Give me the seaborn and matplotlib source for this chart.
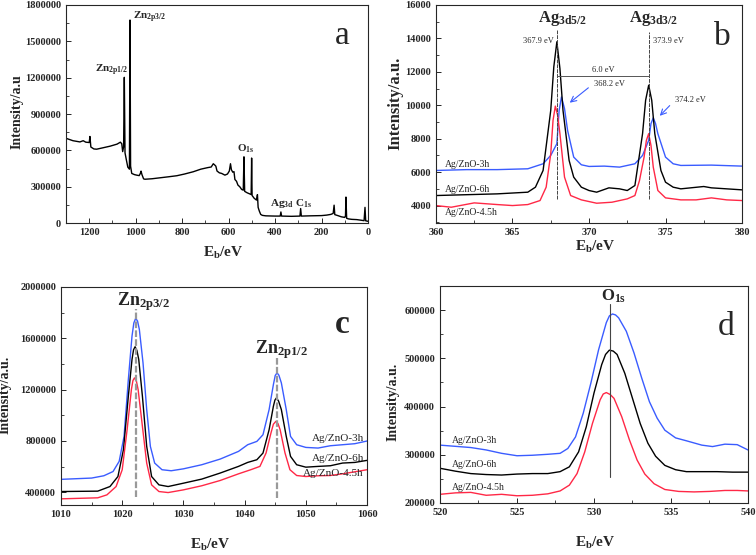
import matplotlib
matplotlib.use('Agg')
import matplotlib.pyplot as plt
from matplotlib.ticker import MultipleLocator, StrMethodFormatter
import seaborn as sns

# (a) survey spectrum
survey_ev = [1300, 1270, 1240, 1226, 1215, 1200, 1197, 1193, 1180, 1168, 1140, 1110, 1080, 1066,
             1060, 1056, 1052, 1049, 1046, 1040, 1034, 1027, 1024.5, 1022, 1017, 1005, 996, 985,
             980, 977, 973, 966, 960, 930, 895, 860, 823, 790, 752, 720, 690, 675, 666, 660, 655,
             650, 640, 630, 616, 605, 597, 592, 588, 582, 577, 573, 566, 560, 552, 544, 537, 534,
             531, 520, 508, 503, 501, 499, 490, 480, 476, 473, 468, 462, 455, 440, 400, 378, 375,
             372, 330, 293, 290, 287, 250, 200, 178, 160, 150, 146, 143, 130, 115, 100, 97, 95, 92,
             85, 70, 49, 30, 17, 13, 10, 5, 0]
survey_int = [700000, 680000, 670000, 680000, 668000, 665000, 715000, 628000, 612000, 610000,
              622000, 635000, 652000, 668000, 655000, 590000, 630000, 1203000, 580000, 520000,
              462000, 445000, 1676000, 470000, 410000, 400000, 396000, 392000, 410000, 429000,
              400000, 365000, 362000, 366000, 374000, 382000, 391000, 405000, 424000, 445000,
              458000, 463000, 490000, 480000, 470000, 430000, 415000, 410000, 396000, 405000,
              430000, 490000, 440000, 420000, 425000, 360000, 345000, 314000, 300000, 278000,
              272000, 547000, 262000, 250000, 240000, 236000, 537000, 228000, 205000, 190000,
              235000, 130000, 100000, 72000, 64000, 60000, 58000, 58000, 92000, 58000, 56000,
              58000, 120000, 58000, 60000, 62000, 66000, 72000, 80000, 148000, 70000, 62000,
              52000, 47000, 60000, 215000, 40000, 35000, 31000, 29000, 24000, 20000, 130000,
              19000, 17000, 15000]

# (b) Ag 3d
ag_ev_3h = [360, 362, 364, 366, 367, 367.5, 367.9, 368.05, 368.2, 368.4, 368.6, 369, 369.5, 370,
            371, 372, 373, 373.5, 373.9, 374.05, 374.2, 374.35, 374.5, 375, 375.5, 376, 378, 380]
ag_int_3h = [6100, 6150, 6150, 6200, 6500, 7000, 7700, 9700, 10500, 9800, 8500, 6900, 6440, 6340,
             6360, 6300, 6500, 7000, 7900, 8900, 9250, 8900, 8300, 6900, 6500, 6400, 6420, 6360]
ag_ev_6h = [360, 362, 364, 365, 366, 366.5, 367, 367.5, 367.7, 367.9, 368.1, 368.3, 368.7, 369,
            369.5, 370, 370.5, 371.3, 372, 372.5, 373, 373.5, 373.7, 373.9, 374.1, 374.3, 374.7,
            375, 375.5, 376, 377.5, 378, 380]
ag_int_6h = [4600, 4650, 4700, 4750, 4800, 5100, 6100, 9700, 12300, 13800, 12200, 9700, 6700,
             5700, 5100, 4900, 4800, 5060, 5000, 4900, 5200, 8300, 10300, 11200, 10300, 8300,
             6100, 5400, 5100, 5000, 5140, 5060, 4940]
ag_ev_45h = [360, 361, 362.5, 364, 365, 366, 366.8, 367.2, 367.5, 367.65, 367.8, 367.95, 368.1,
             368.4, 368.8, 369.5, 370, 370.5, 371.5, 372.5, 373, 373.3, 373.6, 373.75, 373.9,
             374.05, 374.2, 374.5, 375, 376, 377, 378, 379, 380]
ag_int_45h = [4000, 3900, 4160, 4060, 4000, 4060, 4300, 5100, 7100, 9100, 9950, 9400, 8300, 5700,
              4600, 4340, 4240, 4140, 4200, 4400, 4600, 5500, 6900, 7900, 8300, 7600, 6300, 4900,
              4460, 4340, 4340, 4460, 4340, 4300]

# (c) Zn 2p
zn_ev_3h = [1010, 1015, 1017, 1018.5, 1019.5, 1020.3, 1021, 1021.6, 1021.9, 1022.2, 1022.5,
            1022.8, 1023.4, 1024, 1024.6, 1025.3, 1026.5, 1028, 1030, 1033, 1036, 1039, 1040.5,
            1042, 1043, 1044, 1044.7, 1045.0, 1045.3, 1045.6, 1046, 1046.8, 1047.5, 1048.5, 1050,
            1052, 1054, 1056, 1058, 1060]
zn_int_3h = [500000, 510000, 528000, 561000, 640000, 835000, 1278000, 1617000, 1720000, 1755000,
             1735000, 1669000, 1408000, 1044000, 757000, 627000, 575000, 567000, 582000, 614000,
             658000, 718000, 770000, 796000, 848000, 1044000, 1239000, 1310000, 1330000, 1312000,
             1252000, 1044000, 835000, 770000, 749000, 744000, 762000, 770000, 778000, 799000]
zn_ev_6h = [1010, 1016, 1018, 1019.3, 1020.2, 1021, 1021.6, 1021.85, 1022.1, 1022.4, 1022.7,
            1023.3, 1024, 1024.8, 1026, 1027.5, 1030, 1033, 1036, 1039, 1040.5, 1042, 1043, 1044,
            1044.7, 1044.95, 1045.2, 1045.55, 1046, 1046.8, 1047.5, 1048.5, 1050, 1052, 1054,
            1056, 1058, 1060]
zn_int_6h = [405000, 408000, 444000, 522000, 731000, 1148000, 1435000, 1510000, 1534000, 1505000,
             1435000, 1148000, 757000, 522000, 457000, 444000, 470000, 502000, 549000, 601000,
             632000, 653000, 705000, 887000, 1070000, 1118000, 1135000, 1110000, 1044000, 835000,
             679000, 614000, 595000, 601000, 606000, 627000, 632000, 648000]
zn_ev_45h = [1010, 1016, 1017.5, 1019, 1020, 1020.8, 1021.5, 1021.75, 1022, 1022.3, 1022.6,
             1023.3, 1024, 1024.8, 1026, 1027.5, 1030, 1033, 1036, 1039, 1041, 1042.5, 1043.5,
             1044.3, 1044.7, 1045.1, 1045.45, 1045.8, 1046.6, 1047.4, 1048.5, 1050, 1052, 1054,
             1056, 1058, 1060]
zn_int_45h = [348000, 356000, 379000, 444000, 575000, 887000, 1200000, 1270000, 1291000, 1270000,
              1200000, 913000, 627000, 457000, 405000, 397000, 418000, 450000, 491000, 543000,
              575000, 601000, 705000, 861000, 930000, 952000, 935000, 887000, 705000, 575000,
              530000, 522000, 528000, 530000, 543000, 559000, 575000]

# (d) O 1s
o_ev_3h = [520, 522, 523, 524, 525, 526, 527, 527.8, 528.3, 528.8, 529.3, 529.8, 530.3, 530.8,
           531.0, 531.2, 531.4, 531.6, 532.1, 532.6, 533.1, 533.6, 534.1, 534.6, 535.3, 536, 537,
           537.7, 538.5, 539.3, 540]
o_int_3h = [320000, 315000, 310000, 303000, 298000, 299000, 301000, 303000, 313000, 337000,
            386000, 449000, 518000, 574000, 588000, 592000, 590000, 584000, 556000, 511000,
            459000, 410000, 376000, 351000, 335000, 329000, 320000, 317000, 322000, 321000,
            310000]
o_ev_6h = [520, 521, 522, 523, 524, 525, 526, 527, 527.8, 528.4, 529, 529.5, 530, 530.5, 530.75,
           531, 531.25, 531.5, 532, 532.5, 533, 533.5, 534, 534.6, 535.3, 536, 537, 538, 539, 540]
o_int_6h = [272000, 266000, 261000, 259000, 258000, 260000, 261000, 261000, 265000, 275000,
            306000, 358000, 428000, 487000, 508000, 517000, 515000, 508000, 469000, 417000,
            365000, 324000, 297000, 278000, 269000, 265000, 265000, 265000, 264000, 264000]
o_ev_45h = [520, 521, 522, 523, 524, 525, 526, 527, 527.8, 528.4, 528.9, 529.4, 529.9, 530.4,
            530.6, 530.8, 531.05, 531.3, 531.8, 532.3, 532.8, 533.3, 533.9, 534.6, 535.5, 536.5,
            537.5, 538.5, 539.3, 540]
o_int_45h = [218000, 221000, 222000, 216000, 218000, 215000, 216000, 219000, 225000, 237000,
             261000, 306000, 365000, 414000, 426000, 429000, 425000, 417000, 379000, 331000,
             289000, 260000, 240000, 228000, 224000, 223000, 224000, 226000, 226000, 225000]

sample_labels = ['Ag/ZnO-3h', 'Ag/ZnO-6h', 'Ag/ZnO-4.5h']
BLUE = '#3a5cff'
RED = '#ff2846'
BLACK = 'black'

sns.set_style('ticks')
plt.rcParams['font.family'] = ['Liberation Serif', 'DejaVu Serif']
plt.rcParams['font.weight'] = 'bold'
plt.rcParams['axes.labelweight'] = 'bold'
plt.rcParams['mathtext.fontset'] = 'custom'
plt.rcParams['mathtext.rm'] = 'Liberation Serif:bold'
plt.rcParams['mathtext.default'] = 'regular'
plt.rcParams['axes.linewidth'] = 0.8

fig = plt.figure(figsize=(7.56, 5.55), dpi=100)
ax_a = fig.add_axes([0.0873, 0.598, 0.3995, 0.393])
ax_b = fig.add_axes([0.5767, 0.598, 0.4048, 0.393])
ax_c = fig.add_axes([0.0807, 0.0901, 0.4048, 0.3928])
ax_d = fig.add_axes([0.582, 0.0937, 0.4074, 0.391])


def style(ax, xmaj, xmin, ymaj, ymin):
    ax.xaxis.set_major_locator(MultipleLocator(xmaj))
    ax.xaxis.set_minor_locator(MultipleLocator(xmin))
    ax.yaxis.set_major_locator(MultipleLocator(ymaj))
    ax.yaxis.set_minor_locator(MultipleLocator(ymin))
    ax.xaxis.set_major_formatter(StrMethodFormatter('{x:.0f}'))
    ax.yaxis.set_major_formatter(StrMethodFormatter('{x:.0f}'))
    ax.tick_params(which='both', direction='in', labelsize=7.5, top=False, right=False)
    ax.tick_params(which='major', length=3.5, width=0.7)
    ax.tick_params(which='minor', length=2, width=0.6)
    for lab in ax.get_xticklabels() + ax.get_yticklabels():
        lab.set_fontweight('bold')
    for s in ax.spines.values():
        s.set_visible(True)
        s.set_linewidth(0.8)


def curve(ax, x, y, color):
    sns.lineplot(x=x, y=y, color=color, lw=1.0, ax=ax, estimator=None, sort=False)


# ---- (a) ----
curve(ax_a, survey_ev, survey_int, BLACK)
ax_a.set_xlim(1300, 0)
ax_a.set_ylim(0, 1800000)
style(ax_a, 200, 100, 300000, 150000)
ax_a.set_xlabel('E$_b$/eV', fontsize=11)
ax_a.set_ylabel('Intensity/a.u', fontsize=10)
ax_a.xaxis.set_label_coords(0.52, -0.1)
ax_a.yaxis.set_label_coords(-0.139, 0.51)
ax_a.text(1011, 1700000, 'Zn$_{2p3/2}$', fontsize=8, ha='left', va='center')
ax_a.text(1175, 1262000, 'Zn$_{2p1/2}$', fontsize=8, ha='left', va='center')
ax_a.text(562, 615000, 'O$_{1s}$', fontsize=8, ha='left', va='center')
ax_a.text(420, 160000, 'Ag$_{3d}$', fontsize=8, ha='left', va='center')
ax_a.text(313, 160000, 'C$_{1s}$', fontsize=8, ha='left', va='center')
ax_a.text(0.915, 0.86, 'a', fontsize=24, fontweight='normal', ha='center', va='center',
          transform=ax_a.transAxes)

# ---- (b) ----
curve(ax_b, ag_ev_3h, ag_int_3h, BLUE)
curve(ax_b, ag_ev_6h, ag_int_6h, BLACK)
curve(ax_b, ag_ev_45h, ag_int_45h, RED)
ax_b.set_xlim(360, 380)
ax_b.set_ylim(2950, 16000)
style(ax_b, 5, 2.5, 2000, 1000)
ax_b.set_xlabel('E$_b$/eV', fontsize=11)
ax_b.set_ylabel('Intensity/a.u.', fontsize=12)
ax_b.xaxis.set_label_coords(0.52, -0.072)
ax_b.yaxis.set_label_coords(-0.105, 0.55)
ax_b.plot([367.9, 367.9], [4400, 14500], color='#444444', lw=0.7, ls=(0, (4, 1)))
ax_b.plot([373.9, 373.9], [4400, 14400], color='#444444', lw=0.7, ls=(0, (4, 1)))
ax_b.plot([367.9, 373.9], [11740, 11740], color='#555555', lw=0.7)
ax_b.text(370.9, 11900, '6.0 eV', fontsize=6, fontweight='normal', ha='center', va='bottom')
ax_b.text(367.7, 13850, '367.9 eV', fontsize=6, fontweight='normal', ha='right', va='center')
ax_b.text(374.2, 13850, '373.9 eV', fontsize=6, fontweight='normal', ha='left', va='center')
ax_b.text(370.3, 11300, '368.2 eV', fontsize=6, fontweight='normal', ha='left', va='center')
ax_b.text(375.6, 10300, '374.2 eV', fontsize=6, fontweight='normal', ha='left', va='center')
ax_b.annotate('', xy=(368.6, 10050), xytext=(370.1, 11150),
              arrowprops=dict(arrowstyle='->', color=BLUE, lw=0.8))
ax_b.annotate('', xy=(374.5, 9250), xytext=(375.4, 10100),
              arrowprops=dict(arrowstyle='->', color=BLUE, lw=0.8))
ax_b.text(368.3, 15200, 'Ag$_{3d5/2}$', fontsize=12, ha='center', va='center')
ax_b.text(374.2, 15200, 'Ag$_{3d3/2}$', fontsize=12, ha='center', va='center')
for lab, yy in zip(sample_labels, [6450, 4980, 3560]):
    ax_b.text(360.6, yy, lab, fontsize=7, fontweight='normal', ha='left', va='center')
ax_b.text(0.935, 0.855, 'b', fontsize=24, fontweight='normal', ha='center', va='center',
          transform=ax_b.transAxes)

# ---- (c) ----
curve(ax_c, zn_ev_3h, zn_int_3h, BLUE)
curve(ax_c, zn_ev_6h, zn_int_6h, BLACK)
curve(ax_c, zn_ev_45h, zn_int_45h, RED)
ax_c.set_xlim(1010, 1060)
ax_c.set_ylim(300000, 2000000)
style(ax_c, 10, 5, 400000, 200000)
ax_c.set_xlabel('E$_b$/eV', fontsize=11)
ax_c.set_ylabel('Intensity/a.u.', fontsize=10)
ax_c.xaxis.set_label_coords(0.487, -0.145)
ax_c.yaxis.set_label_coords(-0.16, 0.505)
ax_c.plot([1022.2, 1022.2], [366000, 1826000], color='#999999', lw=1.6, ls=(0, (3, 1)))
ax_c.plot([1045.3, 1045.3], [358000, 1448000], color='#999999', lw=1.6, ls=(0, (3, 1)))
ax_c.text(1023.5, 1890000, 'Zn$_{2p3/2}$', fontsize=13, ha='center', va='center')
ax_c.text(1046.1, 1513000, 'Zn$_{2p1/2}$', fontsize=13, ha='center', va='center')
for lab, yy in zip(sample_labels, [822000, 666000, 549000]):
    ax_c.text(1059.5, yy, lab, fontsize=8, fontweight='normal', ha='right', va='center')
ax_c.text(0.92, 0.83, 'c', fontsize=24, fontweight='bold', ha='center', va='center',
          transform=ax_c.transAxes)

# ---- (d) ----
curve(ax_d, o_ev_3h, o_int_3h, BLUE)
curve(ax_d, o_ev_6h, o_int_6h, BLACK)
curve(ax_d, o_ev_45h, o_int_45h, RED)
ax_d.set_xlim(520, 540)
ax_d.set_ylim(200000, 650000)
style(ax_d, 5, 2.5, 100000, 50000)
ax_d.set_xlabel('E$_b$/eV', fontsize=11)
ax_d.set_ylabel('Intensity/a.u.', fontsize=10)
ax_d.xaxis.set_label_coords(0.503, -0.145)
ax_d.yaxis.set_label_coords(-0.13, 0.465)
ax_d.plot([531.05, 531.05], [253000, 612000], color='#444444', lw=0.8)
ax_d.text(531.3, 629000, 'O$_{1s}$', fontsize=12, ha='center', va='center')
for lab, yy in zip(sample_labels, [330000, 280000, 233000]):
    ax_d.text(520.8, yy, lab, fontsize=7, fontweight='normal', ha='left', va='center')
ax_d.text(0.93, 0.81, 'd', fontsize=24, fontweight='normal', ha='center', va='center',
          transform=ax_d.transAxes)

fig.savefig('out.png', dpi=100)
